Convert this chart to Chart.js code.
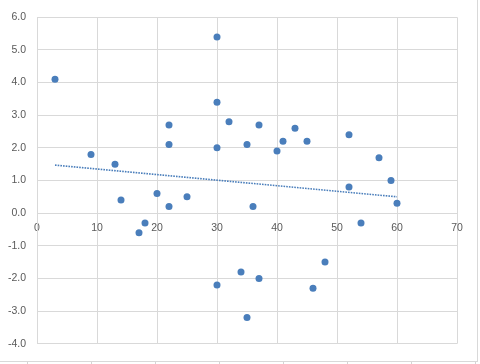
<!DOCTYPE html>
<html>
<head>
<meta charset="utf-8">
<script src="https://cdn.jsdelivr.net/npm/chart.js@4.4.0/dist/chart.umd.min.js"></script>
<style>
  body { margin: 0; background: #fff; }
  #wrap { position: absolute; left: 0; top: 0; width: 477px; height: 361px;
          border-right: 1px solid #d9d9d9; border-bottom: 1px solid #d9d9d9; }
  .cell { position: absolute; top: 362px; width: 1px; height: 2px; background: #d4d4d4; }
</style>
</head>
<body>
<div id="wrap"><canvas id="scatterChart" width="477" height="361"></canvas></div>
<script>
// values
var xValues = [3, 9, 13, 22, 22, 30, 30, 30, 32,
               37, 35, 40, 41, 43, 45, 52, 57, 59,
               14, 20, 22, 25, 18, 17, 30,
               36, 52, 60, 54, 48, 46, 37, 35, 34];
var yValues = [4.1, 1.8, 1.5, 2.7, 2.1, 5.4, 3.4, 2.0, 2.8,
               2.7, 2.1, 1.9, 2.2, 2.6, 2.2, 2.4, 1.7, 1.0,
               0.4, 0.6, 0.2, 0.5, -0.3, -0.6, -2.2,
               0.2, 0.8, 0.3, -0.3, -1.5, -2.3, -2.0, -3.2, -1.8];

// trendline end points, as drawn in the picture
var trendX = [3, 60];
var trendY = [1.47, 0.50];

var pointColor = '#4a7ebb';
var textColor = '#595959';
var gridColor = '#d9d9d9';

// spreadsheet column marks under the chart
[27, 91, 155, 219, 283, 347, 411, 475].forEach(function (x) {
    var d = document.createElement('div');
    d.className = 'cell';
    d.style.left = x + 'px';
    document.body.appendChild(d);
});

var points = [];
for (var i = 0; i < xValues.length; i++) {
    points.push({x: xValues[i], y: yValues[i]});
}
var trend = [];
for (var k = 0; k < trendX.length; k++) {
    trend.push({x: trendX[k], y: trendY[k]});
}

var font = {family: "'Liberation Sans', Arial, sans-serif", size: 10.5};

new Chart(document.getElementById('scatterChart'), {
    type: 'scatter',
    data: {
        datasets: [
            {
                label: 'Trend',
                type: 'line',
                data: trend,
                borderColor: pointColor,
                borderWidth: 1.6,
                borderDash: [1.6, 1.1],
                pointRadius: 0,
                fill: false
            },
            {
                label: 'Values',
                data: points,
                backgroundColor: pointColor,
                borderColor: pointColor,
                pointRadius: 3.5,
                borderWidth: 0
            }
        ]
    },
    options: {
        responsive: false,
        animation: false,
        layout: {padding: {top: 13, right: 20, bottom: 15, left: 0}},
        plugins: {
            legend: {display: false},
            tooltip: {enabled: false}
        },
        scales: {
            x: {
                type: 'linear',
                min: 0,
                max: 70,
                position: {y: 0},
                grid: {color: gridColor, drawTicks: false},
                border: {color: gridColor},
                ticks: {stepSize: 10, color: textColor, font: font, padding: 9, maxRotation: 0}
            },
            y: {
                type: 'linear',
                min: -4,
                max: 6,
                grid: {color: gridColor, drawTicks: false},
                border: {color: gridColor},
                ticks: {
                    stepSize: 1,
                    color: textColor,
                    font: font,
                    padding: 11,
                    callback: function (v) { return v.toFixed(1); }
                },
                afterFit: function (scale) { scale.width = 37; }
            }
        }
    }
});
</script>
</body>
</html>
